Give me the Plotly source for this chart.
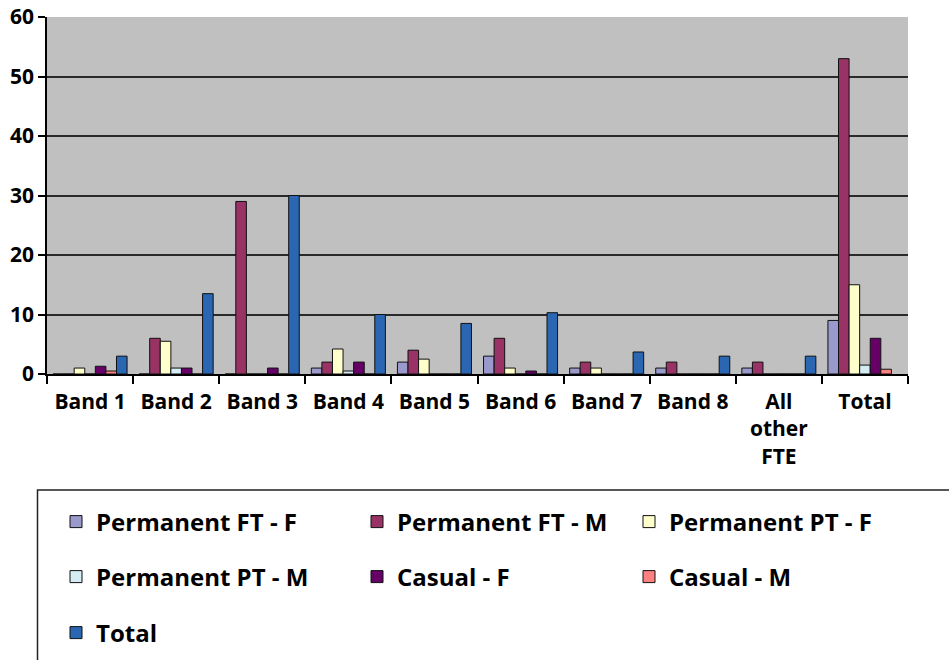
import plotly.graph_objects as go

categories = ["Band 1", "Band 2", "Band 3", "Band 4", "Band 5", "Band 6",
              "Band 7", "Band 8", "All<br>other<br>FTE", "Total"]

perm_ft_f = [0, 0, 0, 1, 2, 3, 1, 1, 1, 9]
perm_ft_m = [0, 6, 29, 2, 4, 6, 2, 2, 2, 53]
perm_pt_f = [1, 5.5, 0, 4.2, 2.5, 1, 1, 0, 0, 15]
perm_pt_m = [0, 1, 0, 0.5, 0, 0, 0, 0, 0, 1.5]
casual_f = [1.3, 1, 1, 2, 0, 0.5, 0, 0, 0, 6]
casual_m = [0.5, 0, 0, 0, 0, 0, 0, 0, 0, 0.8]
total = [3, 13.5, 30, 10, 8.5, 10.3, 3.7, 3, 3, None]

series_names = ["Permanent FT - F", "Permanent FT - M", "Permanent PT - F",
                "Permanent PT - M", "Casual - F", "Casual - M", "Total"]
series_values = [perm_ft_f, perm_ft_m, perm_pt_f, perm_pt_m, casual_f, casual_m, total]
series_colors = ["#9999CC", "#993366", "#FFFFCC", "#D4ECF4", "#660066", "#FF8080", "#2A66B2"]

y_ticks = [0, 10, 20, 30, 40, 50, 60]

W, H = 949, 660
ML, MR, MT, MB = 47, 41, 17, 286
PW = W - ML - MR
PH = H - MT - MB

def px_x(p):
    return (p - ML) / PW

def px_y(p):
    return (H - MB - p) / PH

FONT = "Open Sans"
FS = 21
LFS = 24

# legend placement (pixel positions of legend entries: text start x, row center y)
legend_pos = [(96, 522), (397, 522), (669, 522),
              (96, 577), (397, 577), (669, 577),
              (96, 633)]

fig = go.Figure()
layout_legends = {}
for i, (name, vals, col) in enumerate(zip(series_names, series_values, series_colors)):
    lg = "legend" if i == 0 else f"legend{i+1}"
    fig.add_trace(go.Bar(
        x=categories, y=vals, name=name,
        marker=dict(color=col, line=dict(color="#111111", width=1)),
        legend=lg,
    ))
    tx, ty = legend_pos[i]
    layout_legends[lg] = dict(
        x=(tx - 40) / W, y=1 - ty / H, xanchor="left", yanchor="middle",
        xref="container", yref="container",
        bgcolor="rgba(0,0,0,0)", borderwidth=0,
        font=dict(family=FONT, size=LFS, color="#000000", weight="bold"),
        orientation="h",
    )

fig.update_layout(
    width=W, height=H,
    margin=dict(l=ML, r=MR, t=MT, b=MB, pad=0, autoexpand=False),
    paper_bgcolor="white",
    plot_bgcolor="#C0C0C0",
    barmode="group",
    bargap=0.14,
    bargroupgap=0.0,
    showlegend=True,
    font=dict(family=FONT, size=FS, color="#000000", weight="bold"),
    xaxis=dict(
        type="category",
        showline=True, linecolor="#000000", linewidth=1.5,
        ticks="outside", tickson="boundaries", ticklen=8, tickcolor="#000000", tickwidth=1.5,
        showgrid=False,
        tickfont=dict(family=FONT, size=FS, color="#000000", weight="bold"),
        ticklabelstandoff=8,
    ),
    yaxis=dict(
        range=[0, 60],
        tickvals=y_ticks,
        showline=True, linecolor="#000000", linewidth=1.5,
        ticks="outside", ticklen=7, tickcolor="#000000", tickwidth=1.5,
        showgrid=True, gridcolor="#2a2a2a", gridwidth=1.5,
        zeroline=False,
        tickfont=dict(family=FONT, size=FS, color="#000000", weight="bold"),
    ),
    shapes=[dict(
        type="rect", xref="paper", yref="paper",
        x0=px_x(37.5), x1=px_x(W + 10), y0=px_y(490), y1=px_y(H + 10),
        line=dict(color="#222222", width=1.5), fillcolor="rgba(0,0,0,0)", layer="below",
    )],
    **layout_legends,
)

fig.write_html("out.html")
